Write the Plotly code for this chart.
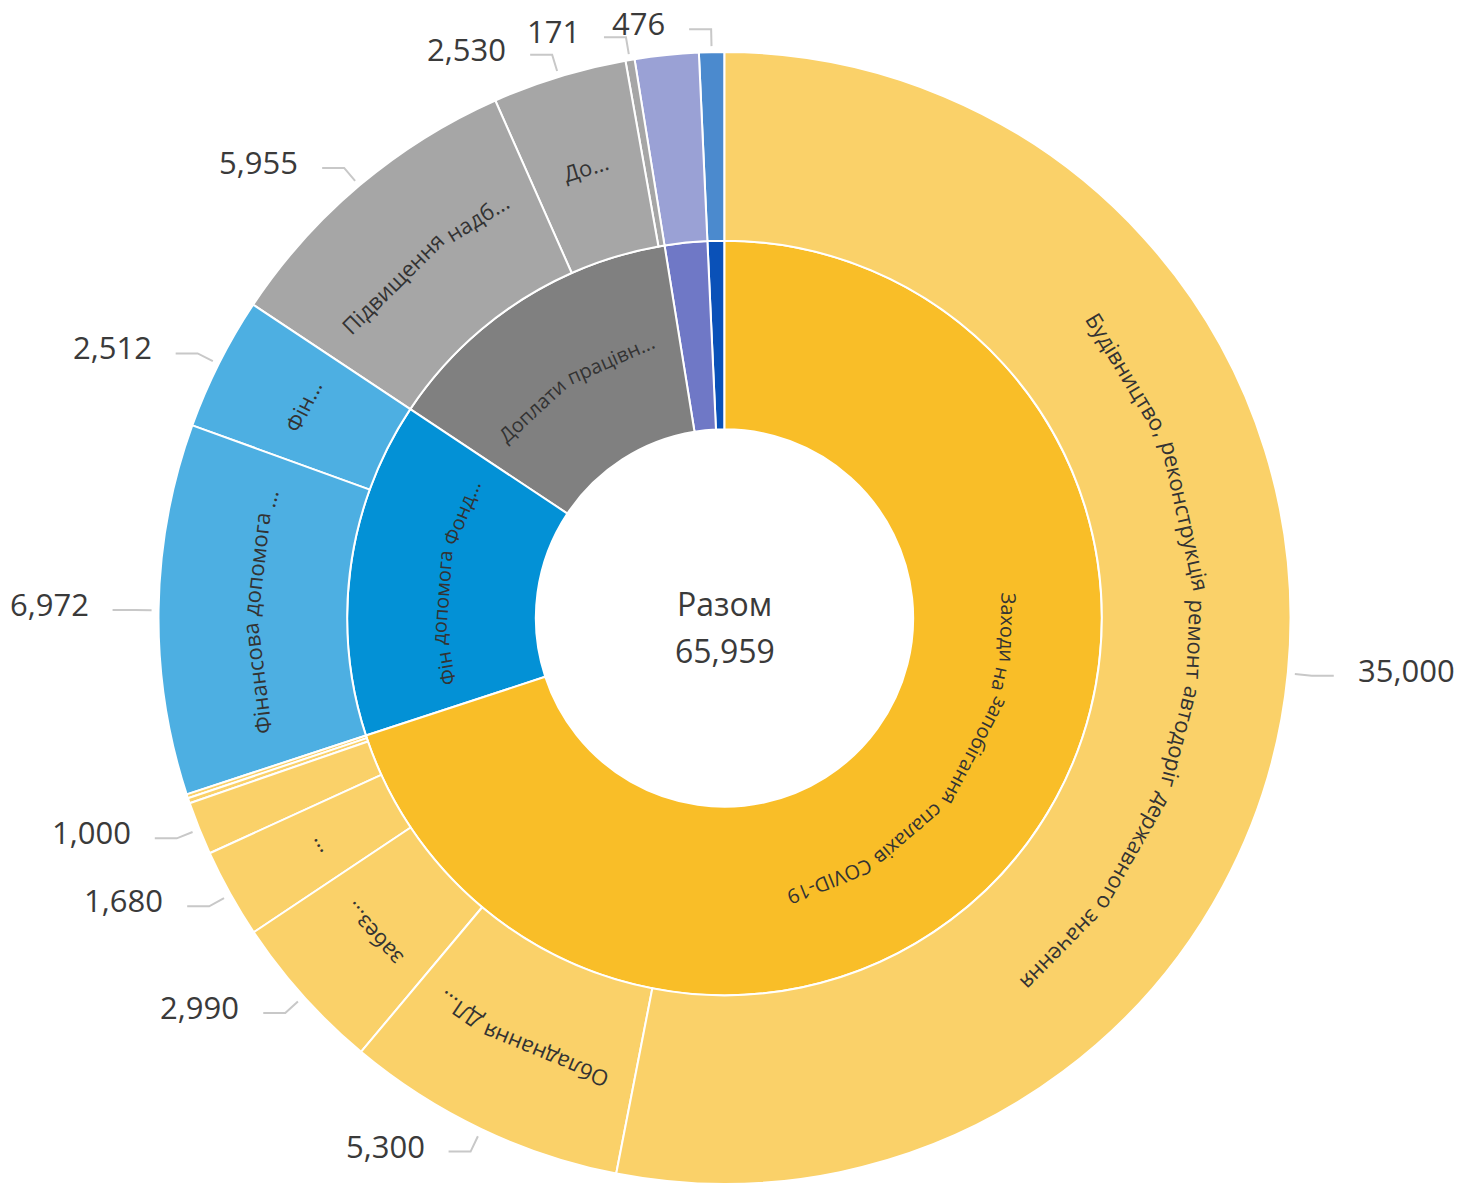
import math
import plotly.graph_objects as go

W, H = 1459, 1184

# ---------------- data ----------------
root_label = "Разом"

group_labels = ["Заходи на запобігання спалахів COVID-19", "Фін допомога Фонд...",
                "Доплати працівн...", "", ""]
group_colors = ["#F9BE28", "#0391D6", "#808080", "#6F78C6", "#0A51B8"]

item_groups = [0, 0, 0, 0, 0, 0, 0, 1, 1, 2, 2, 2, 3, 4]
item_labels = ["Будівництво, реконструкція ремонт автодоріг державного значення",
               "Обладнання ДЛ...", "забез...", "...", "", "", "",
               "Фінансова допомога ...", "Фін...",
               "Підвищення надб...", "До...", "",
               "", ""]
item_values = [35000, 5300, 2990, 1680, 1000, 98, 75,
               6972, 2512,
               5955, 2530, 171,
               1200, 476]
item_value_shown = [1, 1, 1, 1, 1, 0, 0, 1, 1, 1, 1, 1, 0, 1]
item_colors = ["#FAD169"] * 7 + ["#4DAFE2"] * 2 + ["#A6A6A6"] * 3 + ["#9AA1D5", "#4B8ACE"]

# ---------------- hierarchy ----------------
total = sum(item_values)
group_values = [sum(v for g, v in zip(item_groups, item_values) if g == gi)
                for gi in range(len(group_labels))]

ids, labels, parents, values, colors = ["root"], [root_label], [""], [total], ["#FFFFFF"]
# plotly lays sectors counterclockwise -> feed reversed order to get clockwise look
for gi in reversed(range(len(group_labels))):
    ids.append(f"g{gi}")
    labels.append(group_labels[gi] or f"g{gi}")
    parents.append("root")
    values.append(group_values[gi])
    colors.append(group_colors[gi])
    for ii in reversed(range(len(item_values))):
        if item_groups[ii] != gi:
            continue
        ids.append(f"i{ii}")
        labels.append(item_labels[ii] or f"i{ii}")
        parents.append(f"g{gi}")
        values.append(item_values[ii])
        colors.append(item_colors[ii])

# ---------------- geometry (page px) ----------------
CX, CY, R = 724.5, 619.0, 567.0
ring = R / 3.0

dom_x = [(CX - R) / W, (CX + R) / W]
dom_y = [max(0.0, (H - CY - R) / H), (H - CY + R) / H]

fig = go.Figure(go.Sunburst(
    ids=ids, labels=labels, parents=parents, values=values,
    branchvalues="total", sort=False, rotation=90,
    marker=dict(colors=colors, line=dict(color="#FFFFFF", width=2)),
    leaf=dict(opacity=1),
    textinfo="none", hoverinfo="skip",
    domain=dict(x=dom_x, y=dom_y),
))

FONT = "Segoe UI, Open Sans, Noto Sans, sans-serif"
TXT = "#333333"


def polar(r, th):
    a = math.radians(th)
    return CX + r * math.sin(a), CY - r * math.cos(a)


def px2paper(x, y):
    return x / W, 1 - y / H


CW = {" ": 0.26, ",": 0.25, ".": 0.25, "-": 0.32, "і": 0.25, "ї": 0.25, "І": 0.28, "I": 0.28,
      "а": 0.56, "б": 0.61, "в": 0.6, "г": 0.47, "д": 0.6, "е": 0.56, "ж": 0.85, "з": 0.5,
      "и": 0.63, "й": 0.63, "к": 0.56, "л": 0.6, "м": 0.76, "н": 0.63, "о": 0.6, "п": 0.63,
      "р": 0.61, "с": 0.48, "т": 0.5, "у": 0.5, "ф": 0.78, "х": 0.52, "ц": 0.64, "ч": 0.59,
      "ш": 0.93, "щ": 0.95, "ь": 0.56, "ю": 0.87, "я": 0.57, "є": 0.54,
      "З": 0.57, "Б": 0.64, "Д": 0.67, "О": 0.78, "Ф": 0.84, "П": 0.73, "Л": 0.7,
      "C": 0.63, "O": 0.78, "V": 0.6, "D": 0.72}


def char_w(c, s):
    if c in CW:
        return CW[c] * s
    if c.isdigit():
        return 0.57 * s
    return 0.6 * s


annotations = []
shapes = []


def arc_text(text, th_mid, r, size):
    if not text:
        return
    words = text.split(" ")
    widths = [sum(char_w(c, size) for c in w) for w in words]
    sp = char_w(" ", size)
    tot = sum(widths) + sp * (len(words) - 1)
    s = -tot / 2
    for w, wd in zip(words, widths):
        sc = s + wd / 2
        th = th_mid + math.degrees(sc / r)
        x, y = polar(r, th)
        xp, yp = px2paper(x, y)
        ang = ((th + 180) % 360) - 180
        annotations.append(dict(x=xp, y=yp, xref="paper", yref="paper", text=w,
                                showarrow=False, textangle=ang,
                                xanchor="center", yanchor="middle",
                                font=dict(family=FONT, size=size, color=TXT)))
        s += wd + sp


# inner ring labels
cum = 0.0
for gi, gv in enumerate(group_values):
    a0 = cum / total * 360
    cum += gv
    a1 = cum / total * 360
    arc_text(group_labels[gi], (a0 + a1) / 2, ring * 1.5, 20)

# outer ring labels + value callouts
cum = 0.0
for ii, v in enumerate(item_values):
    a0 = cum / total * 360
    cum += v
    a1 = cum / total * 360
    th = (a0 + a1) / 2
    arc_text(item_labels[ii], th, ring * 2.5, 22)
    if item_value_shown[ii]:
        x0, y0 = polar(R + 6, th)
        x1, y1 = polar(R + 23, th)
        side = -1 if th > 180 else 1
        x2 = x1 + side * 22
        p0, p1, p2 = px2paper(x0, y0), px2paper(x1, y1), px2paper(x2, y1)
        shapes.append(dict(type="path", xref="paper", yref="paper",
                           path=f"M {p0[0]},{p0[1]} L {p1[0]},{p1[1]} L {p2[0]},{p2[1]}",
                           line=dict(color="#C8C8C8", width=2)))
        lx, ly = px2paper(x2 + side * 22, y1 - 6)
        annotations.append(dict(x=lx, y=ly, xref="paper", yref="paper",
                                text=f"{v:,}", showarrow=False,
                                xanchor="left" if side > 0 else "right", yanchor="middle",
                                font=dict(family=FONT, size=31, color="#3A3A3A")))

# center texts
for txt, yy in [(root_label, 603), (f"{total:,}", 651)]:
    xp, yp = px2paper(CX, yy)
    annotations.append(dict(x=xp, y=yp, xref="paper", yref="paper", text=txt,
                            showarrow=False, xanchor="center", yanchor="middle",
                            font=dict(family=FONT, size=32, color="#3A3A3A")))

fig.update_layout(
    width=W, height=H,
    margin=dict(l=0, r=0, t=0, b=0),
    paper_bgcolor="#FFFFFF", plot_bgcolor="#FFFFFF",
    showlegend=False,
    annotations=annotations, shapes=shapes,
)

fig.write_html("out.html", config={"displayModeBar": False},
               post_script="document.body.style.margin='0';")
